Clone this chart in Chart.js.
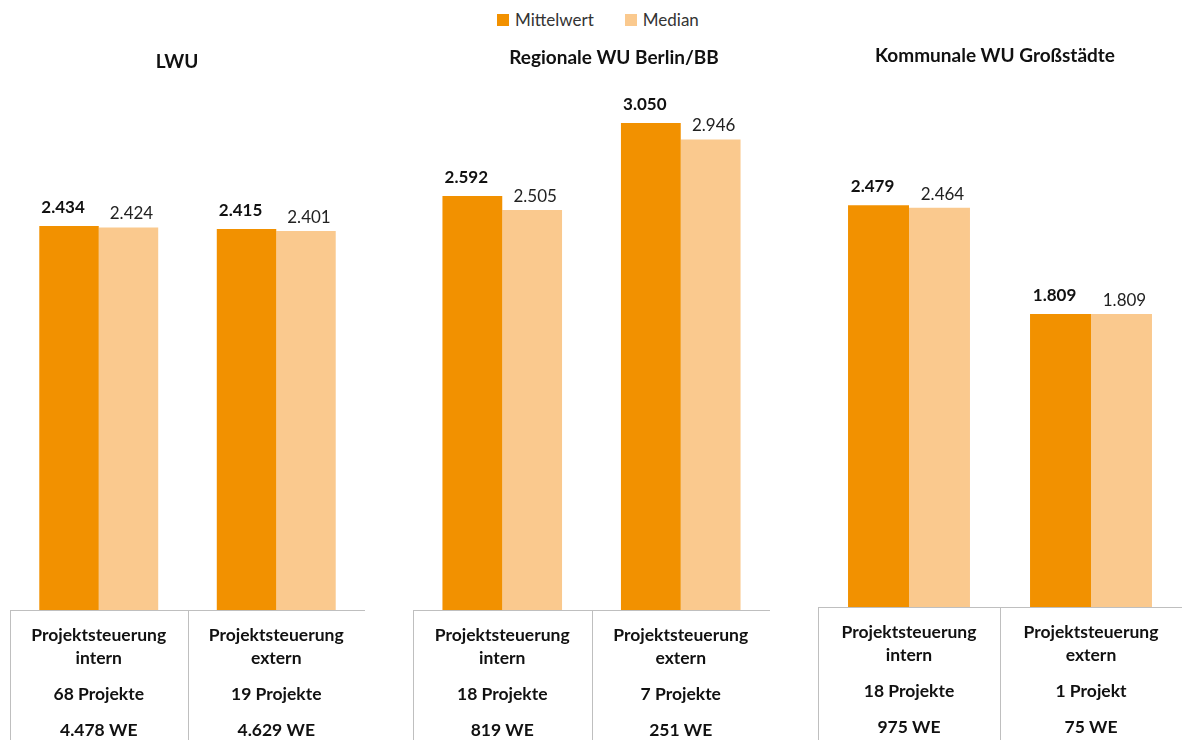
<!DOCTYPE html>
<html lang="de">
<head>
    <meta charset="UTF-8">
    <title>Mittelwert und Median</title>
    <script src="https://cdn.jsdelivr.net/npm/chart.js"></script>
    <style>
        body {
            margin: 0;
            width: 1182px;
            height: 740px;
            background: #fff;
            font-family: Lato, "Open Sans", sans-serif;
            position: relative;
            overflow: hidden;
        }
        .panel {
            position: absolute;
            top: 0;
            height: 740px;
        }
        .title {
            position: absolute;
            font-weight: bold;
            font-size: 19px;
            color: #111;
            white-space: nowrap;
            transform: translate(-50%, -50%);
        }
        #legend {
            position: absolute;
            top: 9px;
            left: 497px;
            font-size: 17px;
            color: #333;
            display: flex;
            align-items: center;
        }
        #legend span.box {
            display: inline-block;
            width: 12px;
            height: 12px;
            margin-right: 6px;
        }
        #legend span.item {
            display: inline-flex;
            align-items: center;
            margin-right: 31px;
        }
    </style>
</head>
<body>
    <div id="legend"></div>

    <script>
        const panels = ['LWU', 'Regionale WU Berlin/BB', 'Kommunale WU Großstädte'];
        const steuerung = ['intern', 'extern'];
        const projekte = [['68 Projekte', '19 Projekte'], ['18 Projekte', '7 Projekte'], ['18 Projekte', '1 Projekt']];
        const wohneinheiten = [['4.478 WE', '4.629 WE'], ['819 WE', '251 WE'], ['975 WE', '75 WE']];
        const mittelwert = [[2434, 2415], [2592, 3050], [2479, 1809]];
        const median = [[2424, 2401], [2505, 2946], [2464, 1809]];

        const seriesNames = ['Mittelwert', 'Median'];
        const colors = ['#F29100', '#FAC98E'];

        // Lage der drei Teilgrafiken
        const layout = [
            { left: 10, width: 355, axisH: 130, max: 3295, titleX: 177, titleY: 60 },
            { left: 413, width: 357, axisH: 130, max: 3256, titleX: 614, titleY: 56 },
            { left: 818, width: 364, axisH: 133, max: 3191, titleX: 995, titleY: 54 }
        ];

        function fmt(v) {
            return String(v).replace(/\B(?=(\d{3})+(?!\d))/g, '.');
        }

        // Legende
        const legend = document.getElementById('legend');
        seriesNames.forEach((name, i) => {
            legend.innerHTML += `<span class="item"><span class="box" style="background:${colors[i]}"></span>${name}</span>`;
        });

        // Werte über den Balken
        const valueLabels = {
            id: 'valueLabels',
            afterDatasetsDraw(chart) {
                const ctx = chart.ctx;
                ctx.save();
                ctx.textAlign = 'center';
                ctx.textBaseline = 'bottom';
                chart.data.datasets.forEach((ds, di) => {
                    const meta = chart.getDatasetMeta(di);
                    ctx.font = (di === 0 ? 'bold ' : '') + '17px Lato, sans-serif';
                    ctx.fillStyle = di === 0 ? '#111' : '#222';
                    meta.data.forEach((bar, i) => {
                        const dx = di === 0 ? -6 : 3;
                        ctx.fillText(fmt(ds.data[i]), bar.x + dx, bar.y - (di === 0 ? 10 : 5));
                    });
                });
                ctx.restore();
            }
        };

        // Tabellenrahmen unter den Balken
        const tableBox = {
            id: 'tableBox',
            afterDraw(chart) {
                const ctx = chart.ctx;
                const x = chart.scales.x;
                const top = chart.chartArea.bottom;
                const half = (x.getPixelForValue(1) - x.getPixelForValue(0)) / 2;
                const edges = [x.getPixelForValue(0) - half, x.getPixelForValue(0) + half, x.getPixelForValue(1) + half];
                ctx.save();
                ctx.strokeStyle = '#bfbfbf';
                ctx.lineWidth = 1;
                ctx.beginPath();
                ctx.moveTo(edges[0], top + 0.5);
                ctx.lineTo(edges[2], top + 0.5);
                edges.forEach(e => {
                    const px = Math.round(e) + 0.5;
                    ctx.moveTo(px, top);
                    ctx.lineTo(px, chart.height);
                });
                ctx.stroke();
                ctx.restore();
            }
        };

        panels.forEach((name, p) => {
            const L = layout[p];
            const div = document.createElement('div');
            div.className = 'panel';
            div.style.left = L.left + 'px';
            div.style.width = L.width + 'px';
            const canvas = document.createElement('canvas');
            div.appendChild(canvas);
            document.body.appendChild(div);

            const t = document.createElement('div');
            t.className = 'title';
            t.style.left = L.titleX + 'px';
            t.style.top = L.titleY + 'px';
            t.textContent = name;
            document.body.appendChild(t);

            const labels = steuerung.map((s, i) => [
                'Projektsteuerung', '', s, '', '', projekte[p][i], '', '', wohneinheiten[p][i]
            ]);

            new Chart(canvas, {
                type: 'bar',
                data: {
                    labels: labels,
                    datasets: [
                        { label: seriesNames[0], data: mittelwert[p], backgroundColor: colors[0] },
                        { label: seriesNames[1], data: median[p], backgroundColor: colors[1] }
                    ]
                },
                options: {
                    responsive: true,
                    maintainAspectRatio: false,
                    animation: false,
                    layout: { padding: { top: 90, left: 0, right: 0, bottom: 0 } },
                    plugins: {
                        legend: { display: false },
                        tooltip: { enabled: false }
                    },
                    datasets: {
                        bar: { categoryPercentage: 0.67, barPercentage: 1.0 }
                    },
                    scales: {
                        x: {
                            grid: { display: false, drawTicks: false },
                            border: { display: false },
                            afterFit(s) { s.height = L.axisH; },
                            ticks: {
                                color: '#111',
                                padding: 19,
                                maxRotation: 0,
                                autoSkip: false,
                                font: { family: 'Lato, sans-serif', size: 17.5, weight: 'bold', lineHeight: 0.68 }
                            }
                        },
                        y: {
                            display: false,
                            min: 0,
                            max: L.max
                        }
                    }
                },
                plugins: [valueLabels, tableBox]
            });
        });
    </script>
</body>
</html>
